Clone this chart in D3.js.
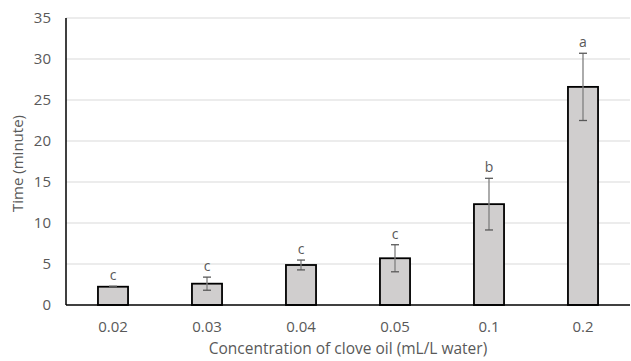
<!DOCTYPE html>
<html>
<head>
<meta charset="utf-8">
<script src="https://cdn.jsdelivr.net/npm/d3@7"></script>
<style>
  body { margin: 0; background: #fff; }
  text { font-family: "Open Sans", "Liberation Sans", sans-serif; fill: #595959; }
</style>
</head>
<body>
<svg id="chart" width="631" height="361"></svg>
<script>
// data
let categories = ['0.02', '0.03', '0.04', '0.05', '0.1', '0.2']
let means = [2.23, 2.6, 4.88, 5.7, 12.3, 26.6]
let errors = [0.05, 0.8, 0.6, 1.65, 3.15, 4.1]
let letters = ['c', 'c', 'c', 'c', 'b', 'a']
let yTicks = [0, 5, 10, 15, 20, 25, 30, 35]

let margin = { top: 18, right: 1, bottom: 56, left: 66 },
    width = 631 - margin.left - margin.right,
    height = 361 - margin.top - margin.bottom

let svg = d3.select('#chart')
let g = svg.append('g').attr('transform', `translate(${margin.left},${margin.top})`)

let x = d3.scaleBand().domain(categories).range([0, width]).paddingInner(0.68).paddingOuter(0.34)
let y = d3.scaleLinear().domain([0, 35]).range([height, 0])

// gridlines
g.append('g')
    .selectAll('line')
    .data(yTicks.slice(1))
    .enter().append('line')
    .attr('x1', 0).attr('x2', width)
    .attr('y1', d => y(d)).attr('y2', d => y(d))
    .style('stroke', '#d9d9d9')
    .style('stroke-width', 1)

// y tick labels
g.append('g')
    .selectAll('text')
    .data(yTicks)
    .enter().append('text')
    .attr('x', -15)
    .attr('y', d => y(d))
    .attr('dy', '0.35em')
    .attr('text-anchor', 'end')
    .style('font-size', '15px')
    .text(d => d)

// bars
g.append('g')
    .selectAll('rect')
    .data(means)
    .enter().append('rect')
    .attr('x', (d, i) => x(categories[i]))
    .attr('y', d => y(d))
    .attr('width', x.bandwidth())
    .attr('height', d => height - y(d))
    .style('fill', '#d0cece')
    .style('stroke', '#000')
    .style('stroke-width', 1.8)

// error bars
let eb = g.append('g')
means.forEach((m, i) => {
    let cx = x(categories[i]) + x.bandwidth() / 2
    let top = y(m + errors[i]), bot = y(m - errors[i])
    eb.append('line').attr('x1', cx).attr('x2', cx).attr('y1', top).attr('y2', bot)
        .style('stroke', '#7f7f7f').style('stroke-width', 1.3)
    ;[top, bot].forEach(yy => {
        eb.append('line').attr('x1', cx - 4).attr('x2', cx + 4).attr('y1', yy).attr('y2', yy)
            .style('stroke', '#595959').style('stroke-width', 1.3)
    })
    // significance letters
    g.append('text')
        .attr('x', cx)
        .attr('y', top - 6)
        .attr('text-anchor', 'middle')
        .style('font-size', '14px')
        .text(letters[i])
})

// x axis line
g.append('line')
    .attr('x1', 0).attr('x2', width)
    .attr('y1', height).attr('y2', height)
    .style('stroke', '#000').style('stroke-width', 1.5)

// y axis line
g.append('line')
    .attr('x1', 0).attr('x2', 0)
    .attr('y1', 0).attr('y2', height)
    .style('stroke', '#000').style('stroke-width', 1.5)

// x tick labels
g.append('g')
    .selectAll('text')
    .data(categories)
    .enter().append('text')
    .attr('x', d => x(d) + x.bandwidth() / 2)
    .attr('y', height + 27)
    .attr('text-anchor', 'middle')
    .style('font-size', '15px')
    .text(d => d)

// axis titles
svg.append('text')
    .attr('x', 348)
    .attr('y', 354)
    .attr('text-anchor', 'middle')
    .style('font-size', '15.5px')
    .text('Concentration of clove oil (mL/L water)')

svg.append('text')
    .attr('transform', `translate(23,${margin.top + height / 2 + 2}) rotate(-90)`)
    .attr('text-anchor', 'middle')
    .style('font-size', '15px')
    .text('Time (minute)')
</script>
</body>
</html>
